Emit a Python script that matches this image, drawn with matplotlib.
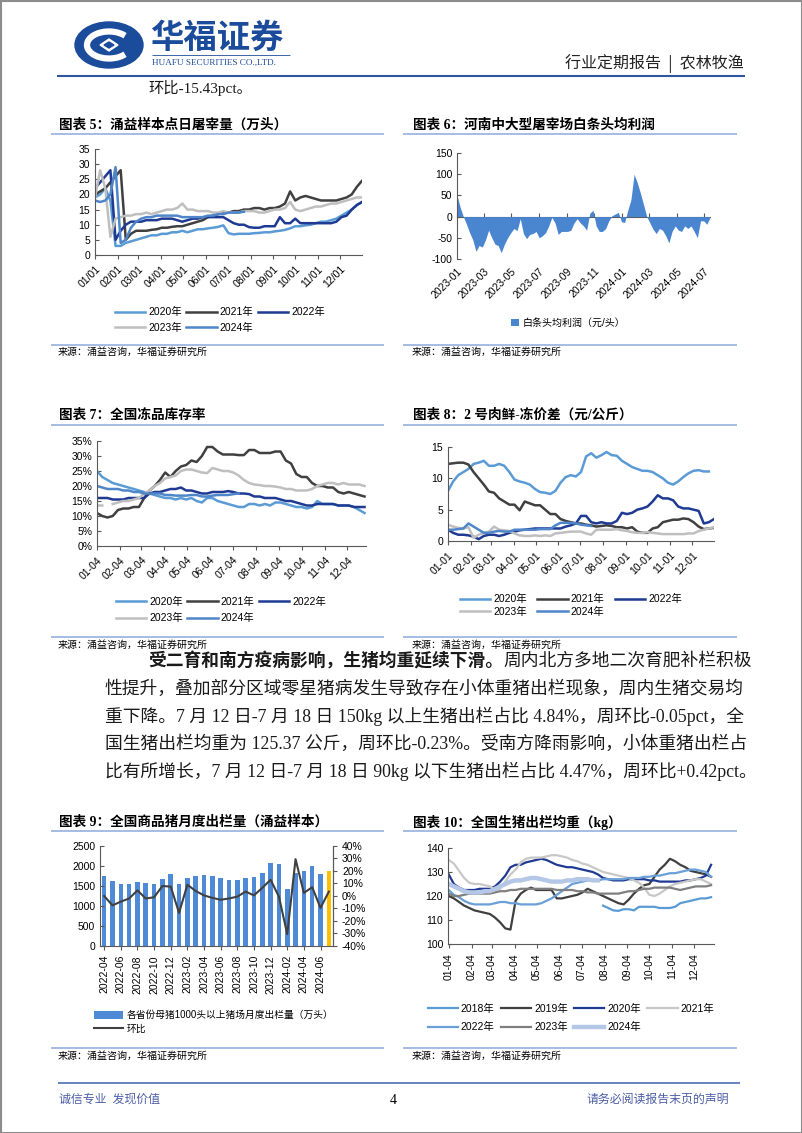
import numpy as np
import pandas as pd
import matplotlib
matplotlib.use("Agg")
import matplotlib.pyplot as plt
from matplotlib.patches import Ellipse, Arc, Rectangle, Patch, Polygon
from matplotlib.lines import Line2D

nan = np.nan

# ---------------- data ----------------
# 图表5 涌益样本点日屠宰量（万头），每周一个点
slaughter_2020 = [19, 20, 22, 18, 3, 3, 4, 4.5, 5, 5.5, 6, 6.5, 6.5, 7, 7, 7.5, 7.5, 8, 7.5, 8,
                  8.5, 8.5, 8.8, 9, 9.3, 9.8, 7.2, 6.8, 7, 7, 7, 7.2, 7.3, 7.5, 7.5, 7.8, 8, 8.3,
                  8.8, 9.5, 9.5, 9.8, 10, 10.5, 11, 11, 11.5, 12, 13, 14, 15, 16.5, 17.5]
slaughter_2021 = [20, 21, 22, 24, 26, 28, 5, 7, 8, 8, 8, 8.3, 8.5, 9, 9, 9.3, 9.5, 9.5, 10, 10.5,
                  11, 11.5, 12.5, 13, 13.5, 14, 14, 14.5, 14.5, 15, 15, 15.5, 15.5, 15, 15.5, 15.5,
                  16, 17, 21, 18, 19, 19.5, 19, 18.5, 18, 18, 18, 18, 18.5, 19, 20, 22.5, 24.5]
slaughter_2022 = [22, 24, 26, 28, 5, 8, 10, 11, 11, 11, 11.5, 11.5, 11.5, 12, 12, 12, 11.5, 11,
                  11.5, 12, 12, 12.5, 12.5, 12.5, 12.5, 12.5, 11.5, 10.5, 10, 10, 9.2, 9, 9, 9.5,
                  9.5, 9.5, 12.5, 10.5, 10.5, 12, 10.5, 10.5, 10.5, 10.5, 10.5, 10.5, 10.5, 11,
                  12.5, 13, 15, 16.5, 17.5]
slaughter_2023 = [19, 28, 22, 6, 12, 12.5, 13, 13, 13.5, 13.5, 14, 13.5, 14, 14.5, 15, 15, 15.5,
                  17, 15, 15, 14.5, 14.5, 14.5, 14, 14, 14.5, 14, 14, 14, 14.5, 14.5, 14.5, 14, 14,
                  14.5, 15, 15, 15.5, 17.5, 15, 14.5, 15, 15.5, 16, 16, 16.5, 17, 17, 17.5, 18,
                  18.5, 19, 19]
slaughter_2024 = [18, 17.5, 18, 20, 29, 4, 5, 9, 11, 12, 12.5, 12.5, 13, 13, 13, 13, 13, 12.5,
                  12.5, 12.5, 12.5, 12.5, 13, 13, 13.5, 13.5, 14, 14, 14, 14.3] + [nan] * 23

# 图表6 河南中大型屠宰场白条头均利润（元/头），2023-01 起每周
profit = [50, 22, 0, -18, -38, -55, -82, -68, -72, -55, -32, -50, -65, -68, -85, -65, -50, -38,
          -28, -33, -5, -40, -52, -42, -40, -35, -50, -45, -38, -22, -2, -15, -42, -35, -35, -35,
          -32, -15, -5, -15, -22, -32, 8, 15, -22, -35, -35, -28, -10, 2, 6, 10, -12, -14, 15,
          40, 100, 80, 55, 28, 0, -15, -30, -40, -28, -32, -45, -62, -35, -22, -32, -35, -22,
          -28, -22, -35, -50, -10, -10, -18, -2]

# 图表7 全国冻品库存率（%），1月4日起每周
inv_2020 = [25, 23, 22, 21, 20.5, 20, 19.5, 19, 18.5, 18, 17.5, 17, 16.5, 16, 16, 15.5, 16, 15.5,
            16, 15, 14.5, 16, 16, 15, 14.5, 14, 13.5, 13, 13, 14, 14, 13.5, 14, 13.5, 14.5, 14.5,
            14, 13.5, 13, 13, 12.5, 13, 15, 14, 14, 14, 13.5, 13.5, 13.5, 13, 12, 11]
inv_2021 = [11, 10, 9.5, 10, 12, 12.5, 12.5, 13, 13, 16, 18.5, 20, 22, 24.5, 23, 25, 26.5, 27,
            28.5, 28, 30, 33, 33, 31.5, 30.5, 30.5, 30.5, 30.3, 30.3, 32, 32, 31, 31, 31, 31.5,
            31.5, 28.5, 27.5, 24, 23, 23, 21, 20, 20, 19.5, 19.5, 18, 17.5, 18, 17.5, 17, 16.5]
inv_2022 = [16, 16, 16, 15.5, 15.5, 15.5, 16, 16, 16, 16, 17.5, 18, 18, 18.5, 19, 19, 19.5, 18.5,
            18.5, 18, 17.5, 17.5, 18, 18, 18, 18.3, 18, 17.5, 17.5, 17.3, 16.5, 16.5, 16, 16, 16,
            15.5, 15, 15, 14.5, 14, 13.5, 13.5, 14, 14, 14, 14, 13.5, 13.5, 13.5, 13, 13, 13]
inv_2023 = [13.5, 13.5, nan, 14, 14.5, 15, 15, 15.5, 16, 17.5, 18.5, 20, 21, 22.5, 23, 23.5, 25,
            25.5, 25.5, 25, 24.5, 24.3, 26, 25.5, 25, 25, 24.5, 23.5, 22, 21, 20.5, 20.3, 20, 20,
            19.8, 19.5, 19, 19, 18.5, 18.5, 18.5, 19, 20, 20.5, 21, 21, 20.5, 21, 20.5, 20.5,
            20.5, 20]
inv_2024 = [20, 19.5, 19, 19, 19, 18.5, 18.5, 18, 18, 17.5, 17.5, 17.5, 17.5, 17, 17, 16.8, 16.8,
            16.8, 17, 17, 16.5, 16.5, 16.8, 17, 17, 17, 17.3, 17.5] + [nan] * 24

# 图表8 2号肉鲜-冻价差（元/公斤），1月1日起每周
spread_2020 = [8, 9.5, 10.5, 11, 11.5, 12.3, 12.5, 12.8, 12, 12, 12.3, 12, 11, 9.8, 9.5, 9.3, 9,
               8.3, 7.8, 7.7, 7.5, 8, 9.3, 10.2, 10.5, 10.3, 11, 13.5, 14, 13.3, 13.7, 14.2, 13.7,
               13.6, 12.8, 12.3, 11.8, 11.5, 11.2, 11.2, 11, 10.5, 10, 9.3, 9, 9.5, 10.2, 10.8,
               11.2, 11.3, 11.1, 11.1, nan]
spread_2021 = [12.3, 12.4, 12.5, 12.5, 12.2, 11, 10, 9, 7.9, 7.7, 6.8, 6.3, 5.8, 5.8, 4.9, 6.3, 6,
               5.7, 5.7, 5, 4.3, 4.3, 3.5, 3.2, 3, 2.8, 2.8, 2.6, 2.5, 2.3, 2.4, 2.5, 2.4, 2.2,
               2.2, 2, 2.2, 1.5, 1.3, 1.3, 2, 2.2, 3, 3.2, 3.4, 3.4, 3.6, 3.5, 3, 2.3, 1.9, 2, 2.1]
spread_2022 = [1.8, 1.3, 1.0, 1.0, 0.9, 0.7, 0.3, 0.8, 1, 1, 0.8, 1, 1.3, 1.5, 1.7, 1.8, 1.9, 2,
               2, 2, 2, 2, 2, 2.3, 2.5, 2.8, 4, 4, 3, 2.8, 3, 2.8, 2.8, 3.2, 4.5, 4.3, 4.5, 5, 5.2,
               5.5, 6.3, 7.3, 6.8, 6.8, 6.5, 5.5, 5.2, 5.2, 5, 4.8, 2.8, 3, 3.5]
spread_2023 = [2.6, 2.3, 2.1, 2, 2.2, 0.5, 1, 1.3, 1.5, 2.3, 1.8, 1.7, 1.6, 1.2, 0.9, 0.8, 0.8,
               0.9, 0.8, 0.9, 0.8, 1.2, 1.3, 1.4, 1.5, 1.5, 1.5, 1.2, 1, 1.8, 1.8, 1.8, 1.8, 1.9,
               1.7, 1.6, 1.4, 1.3, 1.3, 1.4, 1.3, 1.2, 1.1, 1.1, 1.1, 1.1, 1.1, 1.2, 1.2, 1.6,
               1.8, 2, 2.2]
spread_2024 = [1.8, 1.8, 1.9, 2, 2.8, 2.3, 1.8, 1.3, 1.3, 1.5, 1.6, 1.5, 1.5, 1.8, 1.8, 1.8, 1.8,
               1.8, 1.9, 1.9, 1.9, 2.5, 2.9, 2.9, 2.9, 2.8, 2.6, 2.5, 2.4] + [nan] * 24

# 图表9 全国商品猪月度出栏量（涌益样本）
months_9 = [p.strftime('%Y-%m') for p in pd.period_range('2022-04', '2024-07', freq='M')]
sales_9 = [1750, 1620, 1550, 1540, 1600, 1565, 1550, 1680, 1800, 1550, 1690, 1760, 1770, 1740,
           1690, 1660, 1650, 1710, 1720, 1830, 2065, 2050, 1420, 1830, 1880, 2010, 1810, 1870]
mom_9 = [0, -7.5, -4.5, -2, 4.5, -2, -1, 8, 7.5, -13.5, 9, 4, 0.5, -1.5, -3, -2, -0.5, 3.5, 0.5,
         6.5, 13, -0.5, -30.5, 29.5, 2.5, 7, -9.5, 3.5]

# 图表10 全国生猪出栏均重（kg），1月4日起每周
wt_2018 = [nan] * 30 + [116, 115, 114, 113.8, 114.5, 114.5, 114, 115.5, 115.5, 115.5, 115.5, 115,
                        115, 115, 115.5, 117, 117.5, 118, 118.5, 119, 119, 119.5]
wt_2019 = [120, 119, 117.5, 116, 115, 114, 113.5, 113, 112.5, 111, 109, 106.5, 106, 118, 121,
           122.5, 123.5, 122.5, 122.5, 122.5, 122.5, 119, 119, 119.5, 120, 120.5, 121.5, 123, 122,
           121, 120, 119, 118, 117, 116.5, 118.5, 121, 123, 124.5, 125, 128, 131, 133, 135.5,
           134.5, 133, 132, 130.5, 130, 129.5, 129, 128]
wt_2020 = [129, 125, 123.5, 122.5, 122.5, 122.5, 123, 123, 123, 124, 126, 128.5, 132, 133, 133,
           134, 134.5, 135, 135.5, 135, 134, 133, 132.5, 132, 132, 131.5, 131, 130.5, 130, 129,
           127.5, 127, 126.5, 126.5, 126.5, 127, 127, 127, 127, 126.5, 126.5, 126, 126, 126, 126,
           126, 126.5, 126.5, 127, 127.5, 128.5, 133]
wt_2021 = [135, 133.5, 130.5, 127.5, 125.5, 125, 125, 124.5, 124, 122.5, 123, 126, 129, 131, 134,
           135.5, 136, 136, 136, 136.5, 137, 137, 136.5, 136, 135, 134.5, 133.5, 133, 132, 131,
           130, 129.5, 129, 128.5, 128, 127.5, 126.5, 125.5, 123.5, 120.5, 120, 121, 122.5, 124,
           125, 125.5, 126, 126.5, 127, 127, 126, 125]
wt_2022 = [122.5, 120.5, 119.5, 118, 117, 116.5, 116.5, 116.5, 116.5, 117, 117.5, 117.5, 117, 117,
           116.5, 116.5, 116.5, 116.5, 117, 118, 119, 120.5, 122, 123.5, 125, 125.5, 126, 126.5,
           126.5, 126.5, 127, 127, 127, 127, 127, 127.5, 127.5, 127.5, 128, 128, 128.5, 128.5,
           129, 129.5, 129.5, 130, 130.5, 131, 131, 130.5, 130, 128]
wt_2023 = [121, 120, 120, 120.5, 121, 121, 121, 121, 121, 121.5, 122, 122, 122.5, 122.5, 123, 123,
           123, 123, 123, 123, 123, 122.5, 122.5, 122.5, 122.5, 122, 122, 121.5, 121.5, 121, 121,
           121, 121, 121, 121.5, 122, 122, 122.5, 123, 123, 123.5, 123.5, 123.5, 123.5, 123,
           122.5, 123, 123.5, 124, 124, 124, 124.5]
wt_2024 = [125, 124, 123, 122, 121.5, 121.5, 121.5, 122, 122, 123, 124, 125, 126, 126.5, 126.5,
           127, 127.5, 127.5, 127, 126.5, 126, 126, 126, 126.5, 126.5, 127, 127, 127, 126.5,
           126.5] + [nan] * 22

paragraph = [
    "性提升，叠加部分区域零星猪病发生导致存在小体重猪出栏现象，周内生猪交易均",
    "重下降。7 月 12 日-7 月 18 日 150kg 以上生猪出栏占比 4.84%，周环比-0.05pct，全",
    "国生猪出栏均重为 125.37 公斤，周环比-0.23%。受南方降雨影响，小体重猪出栏占",
    "比有所增长，7 月 12 日-7 月 18 日 90kg 以下生猪出栏占比 4.47%，周环比+0.42pct。",
]

# ---------------- figure ----------------
W, H = 802, 1133
CJK = 'Noto Sans CJK SC'
SERIF = ['Liberation Serif', CJK]
plt.rcParams['font.family'] = ['Liberation Sans', CJK]
plt.rcParams['axes.unicode_minus'] = False

fig = plt.figure(figsize=(W / 100, H / 100), dpi=100)
bg = fig.add_axes([0, 0, 1, 1])
bg.set_xlim(0, W)
bg.set_ylim(H, 0)
bg.axis('off')

BLUE = '#1b4b9b'
AXC = '#595959'
LBLUE = '#8eaadb'
TXT = '#1a1a1a'
yr_colors = {'2020': '#5b9bd5', '2021': '#404040', '2022': '#1f3a93',
             '2023': '#bfbfbf', '2024': '#4f86c9'}


def add_ax(x0, y0, x1, y1):
    return fig.add_axes([x0 / W, 1 - y1 / H, (x1 - x0) / W, (y1 - y0) / H])


def base_style(ax):
    ax.set_facecolor('none')
    ax.spines[['top', 'right']].set_visible(False)
    ax.spines[['left', 'bottom']].set_color(AXC)
    ax.spines[['left', 'bottom']].set_linewidth(0.8)
    ax.tick_params(labelsize=7.5, color=AXC, width=0.8, length=3)
    ax.tick_params(axis='y', direction='in')
    ax.tick_params(axis='x', direction='out')


def legend_at(handles, labels, cx, cy, ncol, **kw):
    opts = dict(loc='center', bbox_to_anchor=(cx / W, 1 - cy / H), ncol=ncol, frameon=False,
                fontsize=7.5, handlelength=2.9, handletextpad=0.3, columnspacing=0.5,
                borderpad=0, labelspacing=0.5)
    opts.update(kw)
    fig.legend(handles, labels, **opts)


def title(x, y, s):
    bg.text(x, y, s, fontsize=9.8, fontweight='bold', family=SERIF, va='center')


def rule(x0, x1, y, color=LBLUE, lw=1.1):
    bg.plot([x0, x1], [y, y], color=color, lw=lw, solid_capstyle='butt')


def source(x, y):
    bg.text(x, y, '来源：涌益咨询，华福证券研究所', fontsize=7.2, family=SERIF, va='center')


# ---- page frame & header ----
bg.add_patch(Rectangle((0.5, 0.5), W - 1, H - 1, fill=False, edgecolor='#8c8c8c', lw=1.5))
bg.add_patch(Ellipse((109, 45), 68, 46, color=BLUE))
bg.add_patch(Arc((109, 45), 44, 27, theta1=30, theta2=330, color='white', lw=4.5))
bg.add_patch(Polygon([[100, 45], [109, 39], [118, 45], [109, 51]], closed=True, color='white'))
bg.add_patch(Polygon([[104, 45], [109, 42], [114, 45], [109, 48]], closed=True, color=BLUE))
bg.text(150, 38, '华福证券', fontsize=24, fontweight='bold', color=BLUE, family=[CJK],
        va='center')
rule(152, 290, 55, color=BLUE, lw=0.6)
bg.text(152, 63, 'HUAFU SECURITIES CO.,LTD.', fontsize=6.6, family='Liberation Serif',
        color=BLUE, va='center')
bg.text(744, 64, '行业定期报告  |  农林牧渔', fontsize=11.5, family=[CJK], color='#222222',
        ha='right', va='center')
rule(57, 745, 76, color='#2e55a0', lw=1.5)
bg.text(148, 88, '环比-15.43pct。', fontsize=11, family=SERIF, color=TXT, va='center')

# ---- chart titles and rules ----
for (x, y, s) in [(59, 125, '图表 5：涌益样本点日屠宰量（万头）'),
                  (413, 125, '图表 6：河南中大型屠宰场白条头均利润'),
                  (59, 415, '图表 7：全国冻品库存率'),
                  (413, 415, '图表 8：2 号肉鲜-冻价差（元/公斤）'),
                  (59, 822, '图表 9：全国商品猪月度出栏量（涌益样本）'),
                  (413, 822, '图表 10：全国生猪出栏均重（kg）')]:
    title(x, y, s)
for y in [134, 425, 831]:
    rule(51, 384, y)
    rule(403, 737, y)
for y, ys in [(345, 352), (637, 645), (1048, 1056)]:
    rule(51, 384, y)
    rule(403, 737, y)
    source(58, ys)
    source(412, ys)

# ---- chart 5 ----
ax = add_ax(95, 149, 362, 255)
base_style(ax)
x5 = pd.date_range('2021-01-01', periods=53, freq='7D')
handles = {}
for yr, vals in [('2020', slaughter_2020), ('2021', slaughter_2021), ('2022', slaughter_2022),
                 ('2023', slaughter_2023), ('2024', slaughter_2024)]:
    handles[yr], = ax.plot(x5, vals, color=yr_colors[yr], lw=1.8)
ax.set_ylim(0, 35)
ax.set_yticks(range(0, 36, 5))
ax.set_xlim(pd.Timestamp('2021-01-01'), pd.Timestamp('2021-12-31'))
t5 = pd.date_range('2021-01-01', periods=12, freq='MS')
ax.set_xticks(t5)
ax.set_xticklabels([d.strftime('%m/%d') for d in t5], rotation=45, ha='right',
                   rotation_mode='anchor')
order = ['2020', '2023', '2021', '2024', '2022']
legend_at([handles[k] for k in order], [k + '年' for k in order], 220, 320, 3,
          labelspacing=0.5, columnspacing=0.4)

# ---- chart 6 ----
ax = add_ax(457, 153, 710, 259)
base_style(ax)
x6 = pd.date_range('2023-01-01', periods=len(profit), freq='7D')
ax.fill_between(x6, profit, 0, color='#4a86d0', lw=0)
ax.set_ylim(-100, 150)
ax.set_yticks(range(-100, 151, 50))
ax.set_xlim(x6[0], x6[-1])
t6 = pd.date_range('2023-01-01', periods=10, freq='2MS')
ax.set_xticks(t6)
ax.set_xticklabels([d.strftime('%Y-%m') for d in t6], rotation=45, ha='right',
                   rotation_mode='anchor')
ax.spines['bottom'].set_visible(False)
ax.tick_params(axis='x', length=0, pad=5)
zero = ax.secondary_xaxis(100 / 250)
zero.set_xticks(t6)
zero.tick_params(direction='in', length=3, color=AXC, width=0.8, labelbottom=False)
zero.spines['bottom'].set_color(AXC)
zero.spines['bottom'].set_linewidth(0.8)
legend_at([Patch(facecolor='#4a86d0')], ['白条头均利润（元/头）'], 568, 323, 1,
          handlelength=0.8, handleheight=0.8, fontsize=7.2)

# ---- chart 7 ----
ax = add_ax(97, 441, 366, 546)
base_style(ax)
x7 = pd.date_range('2021-01-04', periods=52, freq='7D')
for yr, vals in [('2020', inv_2020), ('2021', inv_2021), ('2022', inv_2022),
                 ('2023', inv_2023), ('2024', inv_2024)]:
    handles[yr], = ax.plot(x7, vals, color=yr_colors[yr], lw=1.8)
ax.set_ylim(0, 35)
ax.set_yticks(range(0, 36, 5))
ax.set_yticklabels([f'{v}%' for v in range(0, 36, 5)])
ax.set_xlim(x7[0], pd.Timestamp('2021-12-29'))
t7 = [pd.Timestamp(2021, m, 4) for m in range(1, 13)]
ax.set_xticks(t7)
ax.set_xticklabels([d.strftime('%m-%d') for d in t7], rotation=45, ha='right',
                   rotation_mode='anchor')
legend_at([handles[k] for k in order], [k + '年' for k in order], 221, 610, 3,
          labelspacing=0.6, columnspacing=0.4)

# ---- chart 8 ----
ax = add_ax(448, 447, 714, 541)
base_style(ax)
x8 = pd.date_range('2021-01-01', periods=53, freq='7D')
for yr, vals in [('2020', spread_2020), ('2021', spread_2021), ('2022', spread_2022),
                 ('2023', spread_2023), ('2024', spread_2024)]:
    handles[yr], = ax.plot(x8, vals, color=yr_colors[yr], lw=1.8)
ax.set_ylim(0, 15)
ax.set_yticks(range(0, 16, 5))
ax.set_xlim(pd.Timestamp('2021-01-01'), pd.Timestamp('2021-12-31'))
t8 = pd.date_range('2021-01-01', periods=12, freq='MS')
ax.set_xticks(t8)
ax.set_xticklabels([d.strftime('%m-%d') for d in t8], rotation=45, ha='right',
                   rotation_mode='anchor')
legend_at([handles[k] for k in order], [k + '年' for k in order], 571, 605.5, 3,
          labelspacing=0.25, columnspacing=1.0)

# ---- paragraph ----
fs = 12.8
em = fs * 100 / 72
bold_part = '受二育和南方疫病影响，生猪均重延续下滑。'
bg.text(148, 661, bold_part, fontsize=fs, fontweight='bold', family=SERIF, color=TXT,
        va='center')
bg.text(148 + len(bold_part) * em, 661, '周内北方多地二次育肥补栏积极', fontsize=fs,
        family=SERIF, color=TXT, va='center')
for i, line in enumerate(paragraph):
    bg.text(105, 689 + i * 27.5, line, fontsize=fs, family=SERIF, color=TXT, va='center')

# ---- chart 9 ----
ax = add_ax(100, 846, 333, 946)
base_style(ax)
ax.spines['right'].set_visible(True)
ax.spines['right'].set_color(AXC)
ax.spines['right'].set_linewidth(0.8)
idx = np.arange(len(months_9))
bar_colors = ['#4f8ad6'] * (len(idx) - 1) + ['#ffc000']
ax.bar(idx, sales_9, width=0.55, color=bar_colors)
ax.set_xlim(-0.5, len(idx) - 0.5)
ax.set_ylim(0, 2500)
ax.set_yticks(range(0, 2501, 500))
ax.set_xticks(idx[::2])
ax.set_xticklabels(months_9[::2], rotation=90, ha='center', va='top')
ax.tick_params(axis='x', labelsize=7.5)
ax2 = ax.twinx()
ax2.plot(idx, mom_9, color='#404040', lw=1.5)
ax2.set_ylim(-40, 40)
ax2.set_yticks(range(-40, 41, 10))
ax2.set_yticklabels([f'{v}%' for v in range(-40, 41, 10)])
ax2.spines[['top', 'left', 'bottom']].set_visible(False)
ax2.spines['right'].set_color(AXC)
ax2.tick_params(labelsize=7.5, color=AXC, width=0.8, length=3, direction='out')
fig.legend([Patch(facecolor='#4f8ad6'), Line2D([], [], color='#404040', lw=1.5)],
           ['各省份母猪1000头以上猪场月度出栏量（万头）', '环比'],
           loc='center left', bbox_to_anchor=(89 / W, 1 - 1022 / H), frameon=False,
           fontsize=7, handlelength=3.0, handleheight=0.9, handletextpad=0.4,
           labelspacing=0.4, borderpad=0)

# ---- chart 10 ----
ax = add_ax(448, 848, 714, 944)
base_style(ax)
x10 = pd.date_range('2021-01-04', periods=52, freq='7D')
c10 = {'2018': '#5b9bd5', '2019': '#404040', '2020': '#1f3a93', '2021': '#c8c8c8',
       '2022': '#6a9fd8', '2023': '#7f7f7f', '2024': '#b4c7e7'}
h10 = {}
for yr, vals in [('2018', wt_2018), ('2019', wt_2019), ('2020', wt_2020), ('2021', wt_2021),
                 ('2022', wt_2022), ('2023', wt_2023), ('2024', wt_2024)]:
    h10[yr], = ax.plot(x10, vals, color=c10[yr], lw=3.2 if yr == '2024' else 1.6)
ax.set_ylim(100, 140)
ax.set_yticks(range(100, 141, 10))
ax.set_xlim(pd.Timestamp('2021-01-03'), pd.Timestamp('2021-12-31'))
t10 = [pd.Timestamp(2021, m, 4) for m in range(1, 13)]
ax.set_xticks(t10)
ax.set_xticklabels([d.strftime('%m-%d') for d in t10], rotation=90, ha='center', va='top')
order10 = ['2018', '2022', '2019', '2023', '2020', '2024', '2021']
legend_at([h10[k] for k in order10], [k + '年' for k in order10], 571, 1018, 4,
          labelspacing=0.8, columnspacing=0.6)

# ---- footer ----
rule(58, 740, 1083, color='#4a6fb5', lw=1.2)
bg.text(59, 1100, '诚信专业  发现价值', fontsize=8.6, family=SERIF, color='#4d5ea6', va='center')
bg.text(393, 1100, '4', fontsize=10, family=SERIF, ha='center', va='center')
bg.text(729, 1100, '请务必阅读报告末页的声明', fontsize=8.6, family=SERIF, color='#4d5ea6',
        ha='right', va='center')

fig.savefig('out.png', dpi=100)
